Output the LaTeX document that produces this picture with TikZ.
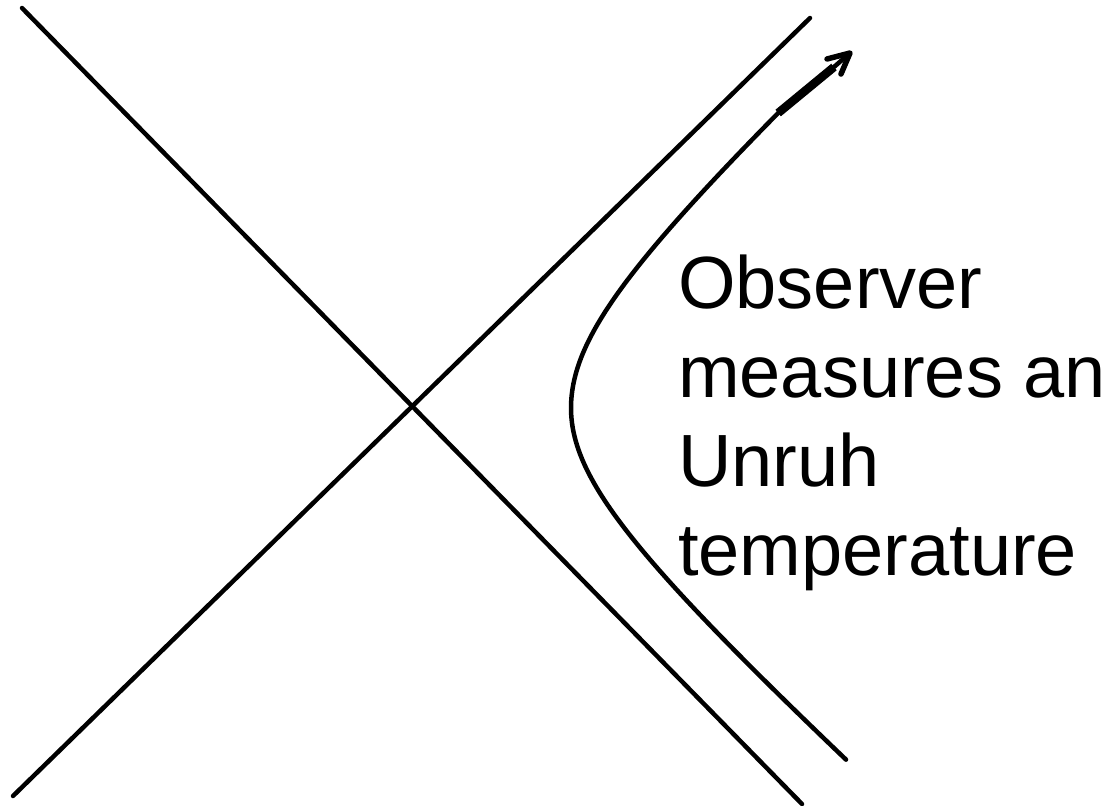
\documentclass[tikz,border=0pt]{standalone}
\usepackage{fontspec}
\setmainfont{Liberation Sans}
\tikzset{
  worldline/.style={line width=4.5pt, line cap=round, line join=round},
  lbl/.style={anchor=base west, inner sep=0pt, font=\fontsize{74}{89}\selectfont},
}
\begin{document}
\begin{tikzpicture}[x=1pt,y=-1pt]
\useasboundingbox[fill=white] (0,0) rectangle (1109,806);
% horizon lines
\coordinate (a1) at (22,8);
\coordinate (a2) at (802,804);
\coordinate (b1) at (13,796);
\coordinate (b2) at (810,18);
\draw[worldline] (a1) -- (a2);
\draw[worldline] (b1) -- (b2);
% observer worldline (hyperbola)
\coordinate (h0) at ({431+140*cosh(-1.558)}, {408+130*sinh(-1.558)});
\draw[worldline] plot[domain=-1.558:0, samples=60] ({431+140*cosh(\x)}, {408+130*sinh(\x)})
  -- plot[domain=0:1.751, samples=60] ({431+140*cosh(\x)}, {408+126*sinh(\x)});
% arrow
\coordinate (tip) at (850,53);
\coordinate (s1) at (834,67);
\coordinate (w1) at (827,59);
\coordinate (w2) at (841,74);
\draw[line width=8.5pt] (h0) -- (s1);
\draw[worldline] (s1) -- (tip);
\draw[worldline, line width=5.5pt] (w1) -- (tip) -- (w2);
% label
\node[lbl] (t1) at (678,308) {Observer};
\node[lbl] (t2) at (678,397) {measures an};
\node[lbl] (t3) at (678,486) {Unruh};
\node[lbl] (t4) at (678,575) {temperature};
\end{tikzpicture}
\end{document}
